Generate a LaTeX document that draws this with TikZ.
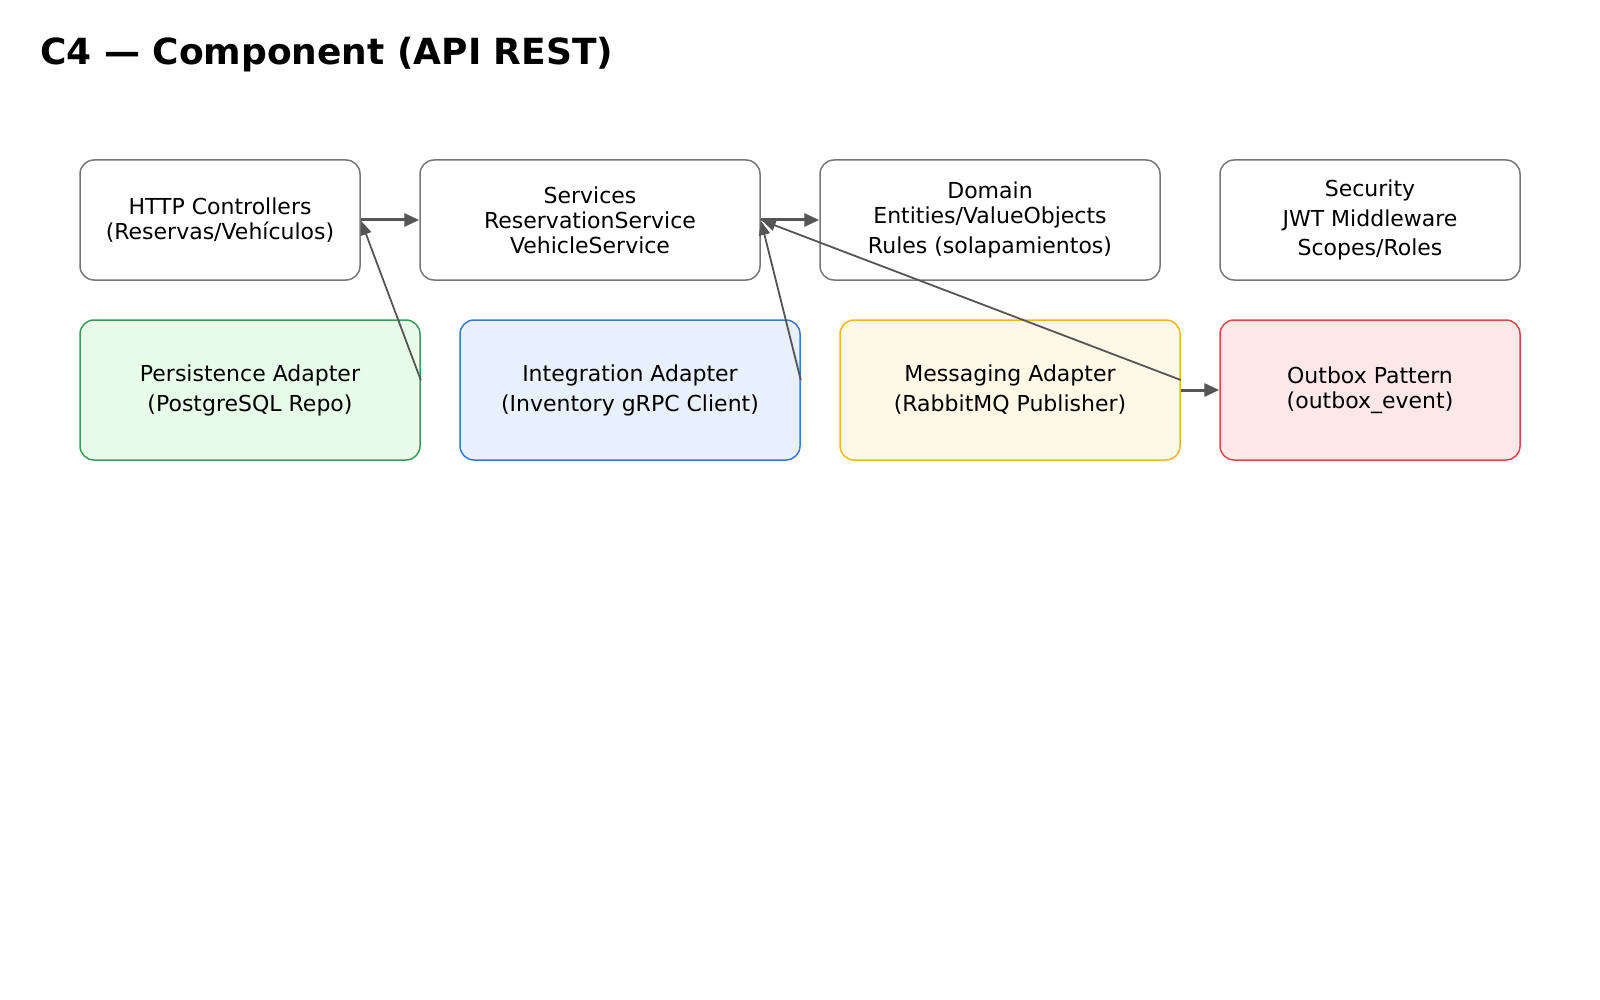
\documentclass[tikz,border=0pt]{standalone}
\usepackage{fontspec}
\setmainfont{DejaVu Sans}
\usepackage{tikz}
\usetikzlibrary{positioning}
\usetikzlibrary{arrows.meta}
\definecolor{edgegray}{HTML}{555555}
\definecolor{boxgray}{HTML}{777777}
\definecolor{persistdraw}{HTML}{3C9A5A}
\definecolor{persistfill}{HTML}{E8FCEA}
\definecolor{integdraw}{HTML}{3A78D8}
\definecolor{integfill}{HTML}{E8F0FC}
\definecolor{msgdraw}{HTML}{F0B820}
\definecolor{msgfill}{HTML}{FDF9E6}
\definecolor{outboxdraw}{HTML}{D94848}
\definecolor{outboxfill}{HTML}{FDE8E8}
\tikzstyle{component}=[rectangle,rounded corners=14pt,draw=boxgray,fill=white,line width=1.5pt,minimum height=120pt,inner sep=0pt,align=center,font=\fontsize{22}{25}\selectfont]
\tikzstyle{adapter}=[component,minimum height=140pt]
\tikzstyle{edge} = [draw,line width=3pt,edgegray,-{Triangle[length=15pt,width=13pt]}]
\tikzstyle{thinedge} = [draw,line width=1.8pt,edgegray,shorten >=1pt,-{Triangle[length=14pt,width=11pt]}]
\tikzstyle{title} = [font=\bfseries\fontsize{36}{40}\selectfont,anchor=base west,inner sep=0pt]

\begin{document}
\begin{tikzpicture}[x=1pt,y=-1pt]
    \useasboundingbox (0,0) rectangle (1600,1000);
    \node[title] (title) at (40,65) {C4 — Component (API REST)};

    \foreach \pos/\name/\boxw/\txt in {{(220,220)/http/280/{HTTP Controllers\\(Reservas/Vehículos)}}, {(590,220)/svc/340/{Services\\ReservationService\\VehicleService}}, {(990,220)/domain/340/{Domain\\Entities/ValueObjects\\[5pt]Rules (solapamientos)}}, {(1370,220)/security/300/{Security\\[5pt]JWT Middleware\\[4pt]Scopes/Roles}}}
        \node[component,minimum width=\boxw] (\name) at \pos {\txt};

    \foreach \pos/\name/\boxw/\ln/\fl/\txt in {{(250,390)/persist/340/persistdraw/persistfill/{Persistence Adapter\\[5pt](PostgreSQL Repo)}}, {(630,390)/integ/340/integdraw/integfill/{Integration Adapter\\[5pt](Inventory gRPC Client)}}, {(1010,390)/msg/340/msgdraw/msgfill/{Messaging Adapter\\[5pt](RabbitMQ Publisher)}}, {(1370,390)/outbox/300/outboxdraw/outboxfill/{Outbox Pattern\\(outbox\_event)}}}
        \node[adapter,draw=\ln,fill=\fl,minimum width=\boxw] (\name) at \pos {\txt};

    \foreach \source/\dest in {http/svc, svc/domain, msg/outbox}
        \path[edge] (\source) -- (\dest);

    \foreach \source/\dest in {persist/http, integ/svc, msg/svc}
        \path[thinedge] ([yshift=10pt]\source.east) -- (\dest.east);

\end{tikzpicture}
\end{document}
